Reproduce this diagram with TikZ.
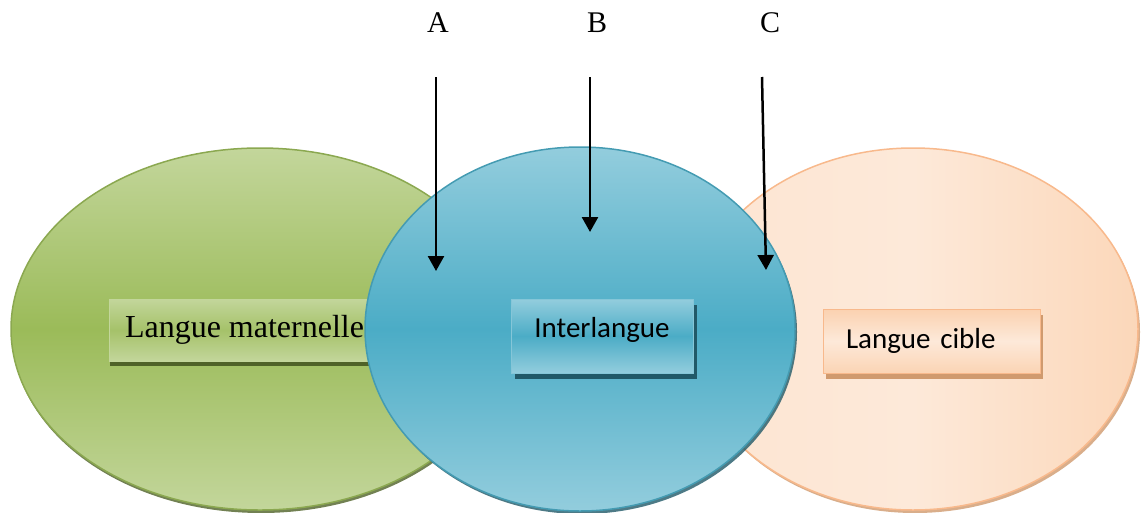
\documentclass[tikz,border=0pt]{standalone}
\usepackage{fontspec}
\setmainfont{Liberation Serif}
\newfontfamily\calibrifont{Carlito}
\usetikzlibrary{arrows.meta,shapes.geometric,shadows}

\definecolor{olivemid}{HTML}{9BBB59}
\definecolor{olivelight}{HTML}{C3D69B}
\definecolor{olivedark}{HTML}{4F6228}
\definecolor{aquamid}{HTML}{4BACC6}
\definecolor{aqualight}{HTML}{93CDDD}
\definecolor{aquadark}{HTML}{215968}
\definecolor{peachlight}{HTML}{FDE9D9}
\definecolor{peachmid}{HTML}{FBD4B4}
\definecolor{peachdark}{HTML}{D09A6E}
\definecolor{peachline}{HTML}{F8B98C}

\begin{document}
\begin{tikzpicture}[
    x=1pt, y=-1pt,
    langue/.style={ellipse, draw, line width=1.5pt, inner sep=0pt},
    langbox/.style={rectangle, draw, line width=1pt, inner sep=0pt},
    arrow/.style={-{Triangle[width=16pt,length=15pt]}, line width=2.5pt},
    letter/.style={font=\fontsize{30}{36}\selectfont}
]

\useasboundingbox (0,0) rectangle (1142,512);

% Circles
\node[langue, minimum width=498pt, minimum height=362pt, draw=olivemid!90!black,
      top color=olivelight, bottom color=olivelight, middle color=olivemid,
      drop shadow={shadow xshift=1pt, shadow yshift=-3pt, fill=olivedark, opacity=0.8}] (mat) at (260,329) {};
\node[langbox, minimum width=271pt, minimum height=62pt, draw=olivelight,
      top color=olivelight, bottom color=olivelight, middle color=olivemid!75!olivelight,
      drop shadow={shadow xshift=1pt, shadow yshift=-5pt, fill=olivedark, opacity=1},
      font=\fontsize{32}{38}\selectfont] (mat-box) at (244.5,330) {Langue maternelle};

\node[langue, minimum width=450pt, minimum height=362pt, draw=peachline,
      left color=peachlight!80!peachmid, right color=peachmid!85!peachlight, middle color=peachlight,
      drop shadow={shadow xshift=2pt, shadow yshift=-3pt, fill=peachdark, opacity=0.8}] (cible) at (913,329) {};
\node[langbox, text width=171pt, inner xsep=23pt, align=left, minimum height=64pt, draw=peachline,
      top color=peachmid!90!peachline, bottom color=peachmid, middle color=peachlight,
      drop shadow={shadow xshift=3pt, shadow yshift=-6pt, fill=peachdark, opacity=1},
      font=\calibrifont\fontsize{29}{35}\selectfont] (cible-box) at (931.5,341) {Langue cible};

\node[langue, minimum width=430pt, minimum height=364pt, draw=aquamid!90!black,
      top color=aqualight, bottom color=aqualight, middle color=aquamid,
      drop shadow={shadow xshift=2pt, shadow yshift=-3pt, fill=aquadark, opacity=0.8}] (inter) at (580,329) {};
\node[langbox, minimum width=182pt, minimum height=74pt, draw=aqualight!80!aquamid,
      top color=aqualight, bottom color=aqualight, middle color=aquamid,
      drop shadow={shadow xshift=4pt, shadow yshift=-6pt, fill=aquadark, opacity=1},
      text height=19pt, text depth=17pt,
      font=\calibrifont\fontsize{29}{35}\selectfont] (inter-box) at (602,336) {Interlangue};

% Letters
\node[letter] (A) at (438,23) {A};
\node[letter] (B) at (597,23) {B};
\node[letter] (C) at (770,23) {C};

% Arrows
\coordinate (a-top) at (436,77);
\coordinate (a-tip) at (436,271);
\coordinate (b-top) at (590,77);
\coordinate (b-tip) at (590,232);
\coordinate (c-top) at (762,77);
\coordinate (c-tip) at (766,270);
\draw[arrow] (a-top) -- (a-tip);
\draw[arrow] (b-top) -- (b-tip);
\draw[arrow] (c-top) -- (c-tip);

\end{tikzpicture}
\end{document}
